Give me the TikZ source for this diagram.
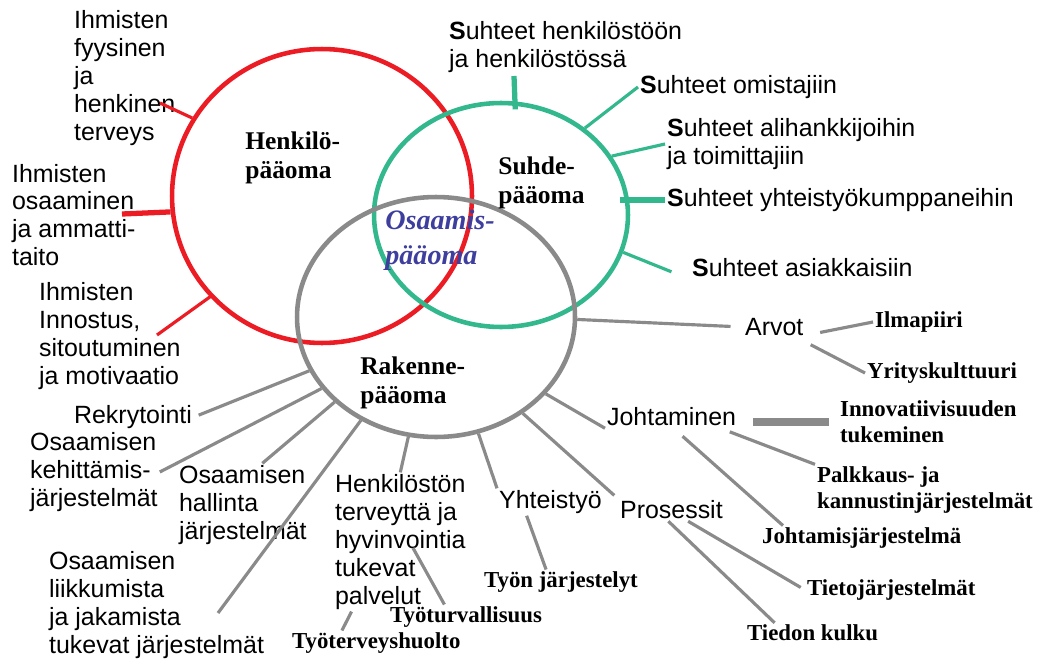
\documentclass[tikz,border=0pt]{standalone}
\usepackage{fontspec}
\setmainfont{Liberation Serif}
\setsansfont{Liberation Sans}
\usetikzlibrary{shapes.geometric}
\definecolor{hred}{HTML}{EC1C24}
\definecolor{sgreen}{HTML}{33B88E}
\definecolor{rgray}{HTML}{8A8A8A}
\definecolor{oblue}{HTML}{3E3E9E}

\begin{document}
\begin{tikzpicture}[
    x=0.02cm, y=-0.02cm,
    ring/.style={ellipse, draw, line width=2.6pt, inner sep=0pt},
    lbl/.style={anchor=west, align=left, inner sep=1pt, font=\sffamily\fontsize{14.2}{15.9}\selectfont},
    sublbl/.style={anchor=west, align=left, inner sep=1pt, font=\bfseries\fontsize{13}{15}\selectfont},
    capital/.style={anchor=west, align=left, inner sep=0pt, font=\bfseries\fontsize{14.5}{16.5}\selectfont},
    rline/.style={draw=hred, line width=1.8pt},
    rthick/.style={draw=hred, line width=3pt},
    gline/.style={draw=sgreen, line width=1.8pt},
    gthick/.style={draw=sgreen, line width=3pt},
    kline/.style={draw=rgray, line width=1.8pt},
    kthick/.style={draw=rgray, line width=4pt},
  ]
  \useasboundingbox (0,0) rectangle (1041,659);

  % the three capital circles
  \node[ring, draw=hred,   minimum width=6cm,    minimum height=5.88cm] (henk)    at (322,196) {};
  \node[ring, draw=sgreen, minimum width=5.08cm, minimum height=4.48cm] (suhde)   at (501,215) {};
  \node[ring, draw=rgray,  minimum width=5.56cm, minimum height=4.8cm]  (rakenne) at (436,317) {};

  \node[capital] (henkL) at (245,158) {Henkilö-\\pääoma};
  \node[capital] (suhdeL) at (498,183) {Suhde-\\pääoma};
  \node[capital] (rakL) at (360,383) {Rakenne-\\pääoma};
  \node[capital, text=oblue, font=\bfseries\itshape\fontsize{16}{20}\selectfont] (osL) at (385,240) {Osaamis-\\pääoma};

  % Henkilöpääoma
  \node[lbl] (terv) at (72,78) {Ihmisten\\fyysinen\\ja\\henkinen\\terveys};
  \node[lbl] (amm) at (10,215) {Ihmisten\\osaaminen\\ja ammatti-\\taito};
  \node[lbl] (inno) at (37,336) {Ihmisten\\Innostus,\\sitoutuminen\\ja motivaatio};
  \coordinate (rTerv) at (160,103);
  \coordinate (rAmm) at (122,214);
  \coordinate (rInno) at (157,335);
  \draw[rline] (rTerv) -- (henk.149);
  \draw[rthick] (rAmm) -- (henk.186);
  \draw[rline, shorten >=-0.06cm] (rInno) -- (henk.222);

  % Suhdepääoma
  \node[lbl] (suhHen) at (447,47) {\textbf{S}uhteet henkilöstöön\\ja henkilöstössä};
  \node[lbl] (omist) at (638,87) {\textbf{S}uhteet omistajiin};
  \node[lbl] (alih) at (665,144) {\textbf{S}uhteet alihankkijoihin\\ja toimittajiin};
  \node[lbl] (yhtk) at (665,200) {\textbf{S}uhteet yhteistyökumppaneihin};
  \node[lbl] (asiak) at (690,268) {\textbf{S}uhteet asiakkaisiin};
  \coordinate (gHen) at (514,76);
  \draw[gthick, shorten >=-0.16cm] (gHen) -- (suhde.83);
  \draw[gline] (suhde.46) -- (omist.west);
  \draw[gline] (suhde.28) -- (alih.west);
  \draw[gthick, shorten >=-0.2cm] (yhtk.west) -- (yhtk.west -| suhde.east);
  \draw[gline, shorten >=0.4cm] (suhde.-17) -- (asiak.south west);

  % Rakennepääoma
  \node[lbl] (arvot) at (743,327) {Arvot};
  \node[lbl] (joht) at (605,417) {Johtaminen};
  \node[lbl] (pros) at (618,510) {Prosessit};
  \node[lbl] (yht) at (497,502) {Yhteistyö};
  \node[lbl] (hterv) at (333,542) {Henkilöstön\\terveyttä ja\\hyvinvointia\\tukevat\\palvelut};
  \node[lbl] (rekry) at (72,417) {Rekrytointi};
  \node[lbl] (keh) at (28,472) {Osaamisen\\kehittämis-\\järjestelmät};
  \node[lbl] (hall) at (177,505) {Osaamisen\\hallinta\\järjestelmät};
  \node[lbl] (liik) at (47,605) {Osaamisen\\liikkumista\\ja jakamista\\tukevat järjestelmät};
  \coordinate (kLiik) at (218,613);
  \draw[kline, shorten >=0.25cm] (rakenne.-1) -- (arvot.west);
  \draw[kline] (rakenne.-35) -- (joht.south west);
  \draw[kline, shorten >=0.1cm] (rakenne.-48) -- (pros.north west);
  \draw[kline] (rakenne.-70) -- (yht.north west);
  \draw[kline] (rakenne.257) -- (hterv.north);
  \draw[kline] (rakenne.234) -- (kLiik);
  \draw[kline] (rakenne.220) -- (hall.65);
  \draw[kline] (rakenne.212) -- (keh.east);
  \draw[kline, shorten >=0.1cm] (rakenne.203) -- (rekry.east);

  % second level
  \node[sublbl] (ilma) at (873,322) {Ilmapiiri};
  \node[sublbl] (yrit) at (865,373) {Yrityskulttuuri};
  \node[sublbl] (innov) at (838,422) {Innovatiivisuuden\\tukeminen};
  \node[sublbl] (palk) at (815,490) {Palkkaus- ja\\kannustinjärjestelmät};
  \node[sublbl] (jjarj) at (760,538) {Johtamisjärjestelmä};
  \node[sublbl] (tjarj) at (805,590) {Tietojärjestelmät};
  \node[sublbl] (tkul) at (745,633) {Tiedon kulku};
  \node[sublbl] (tyon) at (482,582) {Työn järjestelyt};
  \node[sublbl] (tturv) at (388,617) {Työturvallisuus};
  \node[sublbl] (tterv) at (290,643) {Työterveyshuolto};
  \coordinate (kTurv) at (413,548);
  \draw[kline, shorten <=0.3cm] (arvot.-15) -- (ilma.west);
  \draw[kline, shorten <=0.3cm] (arvot.-25) -- (yrit.west);
  \draw[kthick, shorten <=0.18cm, shorten >=0.3cm] (innov.west) -- (innov.west -| joht.east);
  \draw[kline, shorten <=0.2cm] (joht.-13) -- (palk.north west);
  \draw[kline, shorten <=0.24cm] (joht.-80) -- (jjarj.171);
  \draw[kline, shorten >=0.1cm] (pros.326) -- (tjarj.west);
  \draw[kline] (pros.255) -- (tkul.165);
  \draw[kline] (yht.210) -- (tyon.140);
  \draw[kline] (kTurv) -- (tturv.150);
  \draw[kline] (hterv.235) -- (tterv.160);
\end{tikzpicture}
\end{document}
